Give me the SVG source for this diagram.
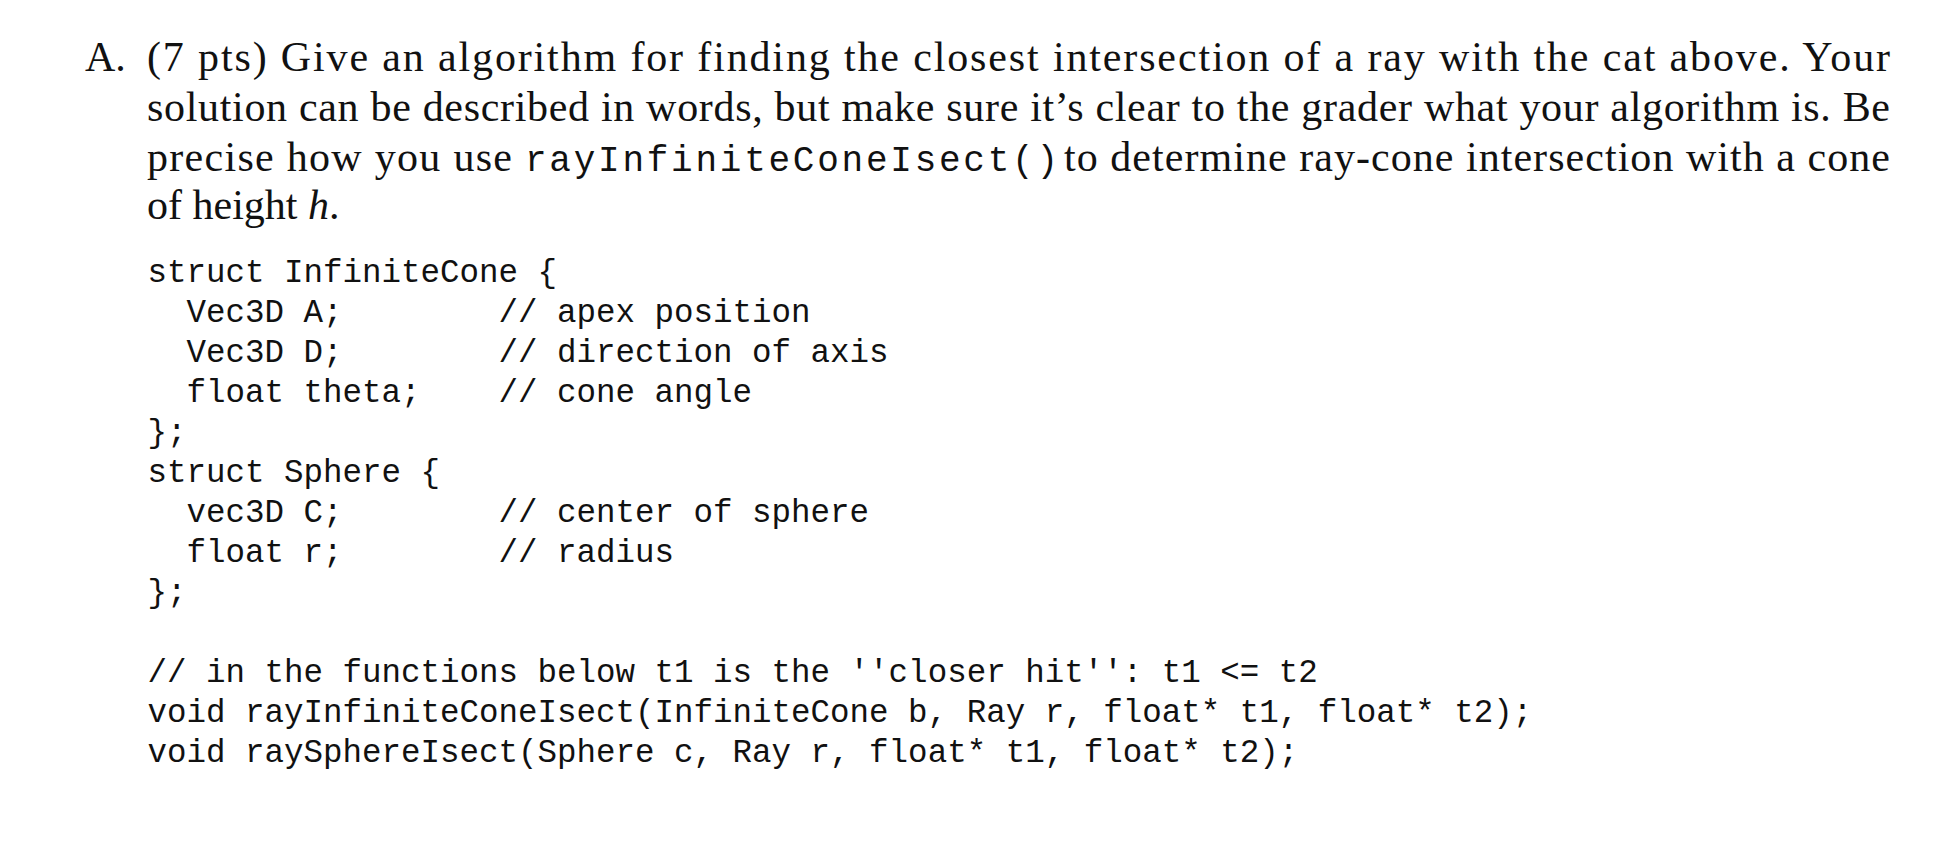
<svg xmlns="http://www.w3.org/2000/svg" width="1950" height="848" viewBox="0 0 1950 848">
<style>
.p{font-family:"Liberation Serif","DejaVu Serif",serif;font-size:42px;fill:#111}
.m{font-family:"Liberation Mono","Courier New",monospace;font-size:32.5px;fill:#111;white-space:pre}
.mi{font-family:"Liberation Mono","Courier New",monospace;font-size:36px;fill:#111}
</style>
<rect width="1950" height="848" fill="#fff"/>
<g id="question">
<text class="p" x="85" y="71">A.</text>
<text class="p" x="147" y="71" textLength="1743" lengthAdjust="spacing">(7 pts) Give an algorithm for finding the closest intersection of a ray with the cat above.  Your</text>
<text class="p" x="147" y="121" textLength="1743" lengthAdjust="spacing">solution can be described in words, but make sure it’s clear to the grader what your algorithm is. Be</text>
<text class="p" x="147" y="171" textLength="365" lengthAdjust="spacing">precise how you use</text>
<text class="mi" x="525" y="171" textLength="533" lengthAdjust="spacing">rayInfiniteConeIsect()</text>
<text class="p" x="1064" y="171" textLength="826" lengthAdjust="spacing">to determine ray-cone intersection with a cone</text>
<text class="p" x="147" y="219">of height <tspan font-style="italic">h</tspan>.</text>
</g>
<g id="code">
<text class="m" x="147.5" y="282" xml:space="preserve">struct InfiniteCone {</text>
<text class="m" x="147.5" y="322" xml:space="preserve">  Vec3D A;        // apex position</text>
<text class="m" x="147.5" y="362" xml:space="preserve">  Vec3D D;        // direction of axis</text>
<text class="m" x="147.5" y="402" xml:space="preserve">  float theta;    // cone angle</text>
<text class="m" x="147.5" y="442" xml:space="preserve">};</text>
<text class="m" x="147.5" y="482" xml:space="preserve">struct Sphere {</text>
<text class="m" x="147.5" y="522" xml:space="preserve">  vec3D C;        // center of sphere</text>
<text class="m" x="147.5" y="562" xml:space="preserve">  float r;        // radius</text>
<text class="m" x="147.5" y="602" xml:space="preserve">};</text>
<text class="m" x="147.5" y="682" xml:space="preserve">// in the functions below t1 is the ′′closer hit′′: t1 &lt;= t2</text>
<text class="m" x="147.5" y="722" xml:space="preserve">void rayInfiniteConeIsect(InfiniteCone b, Ray r, float* t1, float* t2);</text>
<text class="m" x="147.5" y="762" xml:space="preserve">void raySphereIsect(Sphere c, Ray r, float* t1, float* t2);</text>
</g>
</svg>
